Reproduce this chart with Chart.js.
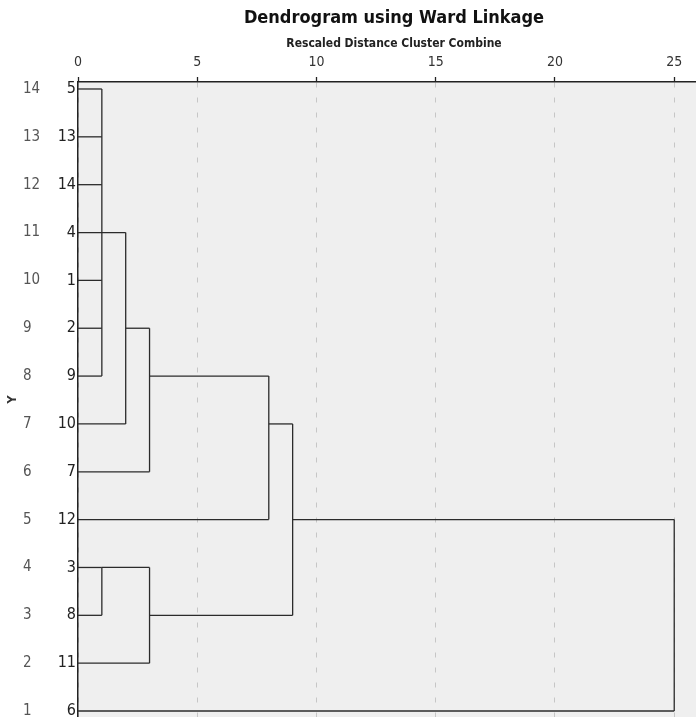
<!DOCTYPE html>
<html lang="en">
<head>
<meta charset="UTF-8">
<title>Dendrogram using Ward Linkage</title>
<style>
  html, body { margin: 0; padding: 0; background: #fff; overflow: hidden; }
  canvas { display: block; }
</style>
<script src="https://cdn.jsdelivr.net/npm/chart.js@4.4.1/dist/chart.umd.min.js"></script>
</head>
<body>
<canvas id="dendro" width="710" height="717"></canvas>
<script>
// row numbers of the dendrogram (bottom = 1, top = 14)
const rowNumbers = [1, 2, 3, 4, 5, 6, 7, 8, 9, 10, 11, 12, 13, 14];
// case labels on each row, same order as rowNumbers
const leafCases = ['6', '11', '8', '3', '12', '7', '10', '9', '2', '1', '4', '14', '13', '5'];
// rescaled distance at which each merge happens
const mergeDistance = [1, 2, 3, 8, 1, 3, 9, 25];
// branches joined by each merge: [row, distance where the branch starts]
const mergeBranches = [
  [[14, 0], [13, 0], [12, 0], [10, 0], [9, 0], [8, 0]],
  [[11, 0], [7, 0]],
  [[9, 2], [6, 0]],
  [[8, 3], [5, 0]],
  [[4, 0], [3, 0]],
  [[4, 1], [2, 0]],
  [[7, 8], [3, 3]],
  [[5, 9], [1, 0]]
];
// top axis ticks
const distTicks = [0, 5, 10, 15, 20, 25];

const FONT = "'DejaVu Sans Condensed', 'Liberation Sans Narrow', sans-serif";
const NARROW = "'Liberation Sans Narrow', 'DejaVu Sans Condensed', sans-serif";
const LINE = '#2b2b2b';

// one dataset per segment of the tree
const datasets = [];
function seg(pts) {
  datasets.push({
    data: pts,
    showLine: true,
    borderColor: LINE,
    borderWidth: 1.3,
    pointRadius: 0,
    fill: false
  });
}
mergeDistance.forEach((d, i) => {
  const rows = mergeBranches[i].map(b => b[0]);
  mergeBranches[i].forEach(b => seg([{x: b[1], y: b[0]}, {x: d, y: b[0]}]));
  seg([{x: d, y: Math.min(...rows)}, {x: d, y: Math.max(...rows)}]);
});

const plotBg = {
  id: 'plotBg',
  beforeDraw(chart) {
    const {ctx, chartArea: a} = chart;
    ctx.save();
    ctx.fillStyle = '#efefef';
    ctx.fillRect(a.left, a.top, a.right - a.left, a.bottom - a.top);
    ctx.restore();
  }
};

function setRows(scale) {
  scale.ticks = rowNumbers.map(v => ({value: v}));
}
// fixed axis size, no extra room for half labels at the ends
function fixSize(w, h) {
  return s => {
    if (w) s.width = w;
    if (h) s.height = h;
    s.paddingTop = 0;
    s.paddingBottom = 0;
    s.paddingLeft = 0;
    s.paddingRight = 0;
  };
}

new Chart('dendro', {
  type: 'scatter',
  data: {datasets: datasets},
  plugins: [plotBg],
  options: {
    responsive: false,
    animation: false,
    events: [],
    layout: {padding: 0},
    plugins: {legend: {display: false}, tooltip: {enabled: false}},
    scales: {
      x: {
        type: 'linear',
        position: 'top',
        weight: 0,
        min: 0,
        max: 26.5,
        afterBuildTicks: s => { s.ticks = distTicks.map(v => ({value: v})); },
        afterFit: fixSize(0, 50),
        grid: {
          color: '#c6c6c6',
          lineWidth: 1,
          tickColor: '#222',
          tickLength: 5,
          tickWidth: 1.3
        },
        border: {display: true, color: '#222', width: 1.5, dash: [5, 10]},
        ticks: {
          padding: 6,
          color: '#333',
          font: {family: FONT, size: 14},
          maxRotation: 0
        },
        title: {
          display: true,
          text: 'Rescaled Distance Cluster Combine',
          color: '#222',
          font: {family: FONT, size: 12, weight: 'bold'},
          padding: {top: 5, bottom: 0}
        }
      },
      xt: {
        type: 'linear',
        position: 'top',
        weight: 1,
        min: 0,
        max: 26.5,
        afterFit: fixSize(0, 32),
        grid: {display: false},
        border: {display: false},
        ticks: {display: false},
        title: {
          display: true,
          text: 'Dendrogram using Ward Linkage',
          color: '#111',
          font: {family: FONT, size: 18, weight: 'bold'},
          padding: {top: 8, bottom: 0}
        }
      },
      y: {
        type: 'linear',
        position: 'left',
        weight: 0,
        min: 0.875,
        max: 14.146,
        afterBuildTicks: setRows,
        afterFit: fixSize(36, 0),
        grid: {display: false, drawTicks: false},
        border: {display: true, color: '#222', width: 1.5},
        ticks: {
          padding: 2,
          color: '#222',
          font: {family: NARROW, size: 16},
          callback: v => leafCases[rowNumbers.indexOf(v)]
        }
      },
      yr: {
        type: 'linear',
        position: 'left',
        weight: 1,
        min: 0.875,
        max: 14.146,
        afterBuildTicks: setRows,
        afterFit: fixSize(19, 0),
        grid: {display: false, drawTicks: false},
        border: {display: false},
        ticks: {
          crossAlign: 'far',
          color: '#555',
          font: {family: NARROW, size: 15}
        }
      },
      yt: {
        type: 'linear',
        position: 'left',
        weight: 2,
        min: 0.875,
        max: 14.146,
        afterFit: fixSize(23, 0),
        grid: {display: false},
        border: {display: false},
        ticks: {display: false},
        title: {
          display: true,
          text: 'Y',
          color: '#333',
          font: {family: FONT, size: 13, weight: 'bold'},
          padding: {top: 5, bottom: 0}
        }
      }
    }
  }
});
</script>
</body>
</html>
